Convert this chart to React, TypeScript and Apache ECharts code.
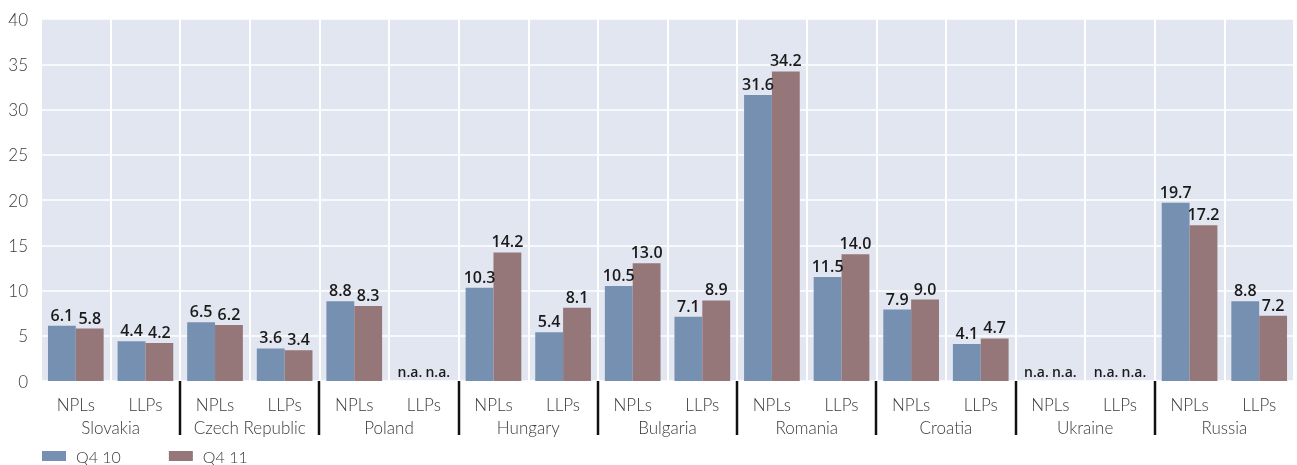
import React, { useEffect, useRef } from "react";
import * as echarts from "echarts";

const COUNTRIES = ["Slovakia", "Czech Republic", "Poland", "Hungary", "Bulgaria", "Romania", "Croatia", "Ukraine", "Russia"];
const MEASURES = ["NPLs", "LLPs"];
const SERIES_NAMES = ["Q4 10", "Q4 11"];
// order: per country NPLs, LLPs ; null = n.a.
const Q4_10: (number | null)[] = [6.1, 4.4, 6.5, 3.6, 8.8, null, 10.3, 5.4, 10.5, 7.1, 31.6, 11.5, 7.9, 4.1, null, null, 19.7, 8.8];
const Q4_11: (number | null)[] = [5.8, 4.2, 6.2, 3.4, 8.3, null, 14.2, 8.1, 13.0, 8.9, 34.2, 14.0, 9.0, 4.7, null, null, 17.2, 7.2];
const Y_TICKS = { min: 0, max: 40, interval: 5 };
const COLORS = ["#7590b0", "#957779"];

export default function App() {
  const ref = useRef<HTMLDivElement>(null);
  useEffect(() => {
    if (!ref.current) return;
    const chart = echarts.init(ref.current, null, { renderer: "svg" });
    const categories: string[] = [];
    COUNTRIES.forEach(() => MEASURES.forEach((m) => categories.push(m)));
    const toData = (arr: (number | null)[]) =>
      arr.map((v) =>
        v === null
          ? { value: 0, label: { formatter: "n.a.", fontSize: 14 } }
          : { value: v }
      );
    const labelStyle = {
      show: true,
      position: "top",
      distance: 3,
      fontFamily: "Open Sans",
      fontSize: 16,
      fontWeight: 600,
      color: "#1a1a1a",
      formatter: (p: any) => Number(p.value).toFixed(1),
    };
    const axisFont = { fontFamily: "Lato", fontWeight: 300, fontSize: 17, color: "#3a3a3a" };
    chart.setOption({
      animation: false,
      grid: {
        left: 41,
        right: 3,
        top: 19,
        height: 362,
        show: true,
        backgroundColor: "#e2e6f1",
        borderWidth: 0,
      },
      legend: {
        data: SERIES_NAMES,
        left: 42,
        top: 448,
        padding: 0,
        itemWidth: 24,
        itemHeight: 10,
        itemGap: 48,
        icon: "rect",
        textStyle: { ...axisFont, fontSize: 16, lineHeight: 14, padding: [0, 0, 0, 5] },
      },
      xAxis: [
        {
          type: "category",
          data: categories,
          position: "bottom",
          axisLine: { show: false },
          axisTick: { show: false },
          axisLabel: { ...axisFont, margin: 15, interval: 0 },
          splitLine: { show: true, interval: 0, lineStyle: { color: "#ffffff", width: 2 } },
        },
        {
          type: "category",
          data: COUNTRIES,
          position: "bottom",
          offset: 23,
          axisLine: { show: false },
          axisTick: { show: false },
          axisLabel: { ...axisFont, margin: 15, interval: 0 },
          splitLine: { show: false },
        },
      ],
      yAxis: {
        type: "value",
        min: Y_TICKS.min,
        max: Y_TICKS.max,
        interval: Y_TICKS.interval,
        axisLine: { show: false },
        axisTick: { show: false },
        axisLabel: { ...axisFont, margin: 13 },
        splitLine: { lineStyle: { color: "#ffffff", width: 1.5 } },
      },
      series: [
        {
          name: SERIES_NAMES[0],
          type: "bar",
          xAxisIndex: 0,
          data: toData(Q4_10),
          itemStyle: { color: COLORS[0] },
          barGap: "0%",
          barCategoryGap: "20%",
          label: labelStyle,
        },
        {
          name: SERIES_NAMES[1],
          type: "bar",
          xAxisIndex: 0,
          data: toData(Q4_11),
          itemStyle: { color: COLORS[1] },
          barGap: "0%",
          barCategoryGap: "20%",
          label: labelStyle,
        },
        {
          name: "separators",
          type: "custom",
          xAxisIndex: 0,
          clip: false,
          silent: true,
          z: 10,
          data: COUNTRIES.slice(1).map((c, i) => [i + 1, 0]),
          renderItem: (params: any, api: any) => {
            const k = params.dataIndex + 1;
            const a = api.coord([2 * k - 1, 0]);
            const b = api.coord([2 * k, 0]);
            const x = Math.round((a[0] + b[0]) / 2);
            const y = a[1];
            return {
              type: "line",
              shape: { x1: x, y1: y, x2: x, y2: y + 54 },
              style: { stroke: "#111111", lineWidth: 2.5 },
            };
          },
        },
      ],
    });
    return () => chart.dispose();
  }, []);
  return (
    <div
      ref={ref}
      style={{ position: "fixed", left: 0, top: 0, width: 1297, height: 465 }}
    />
  );
}
